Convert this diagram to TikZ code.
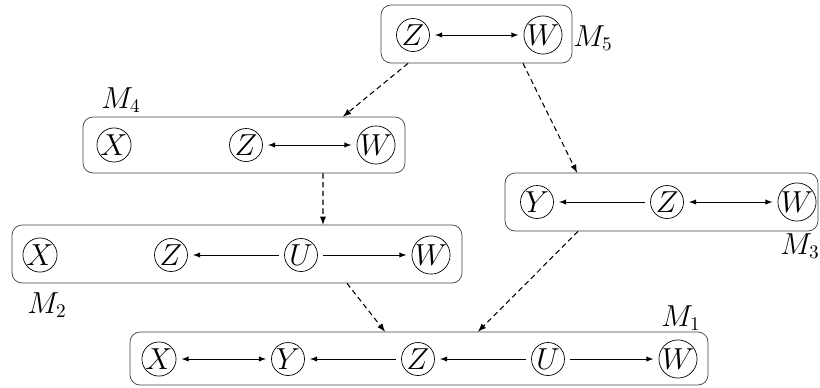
\documentclass[tikz,border=0pt]{standalone}
\usetikzlibrary{arrows}
\begin{document}
\begin{tikzpicture}[
    x=0.02cm, y=-0.02cm,
    >=latex,
    font=\fontsize{16}{19}\selectfont,
    var/.style={draw, circle, thin, minimum size=0.66cm, inner sep=0pt},
    model/.style={draw=black!75, rounded corners=0.2cm, minimum height=1.16cm},
    causal/.style={->, thin, shorten >=3pt, shorten <=3pt},
    assoc/.style={<->, thin, shorten >=3pt, shorten <=3pt},
    refine/.style={->, semithick, dash pattern=on 3pt off 2pt}
    ]
    \useasboundingbox (0,0) rectangle (820,387);

    % Model M5
    \node[model, minimum width=3.82cm] (m5) at (476.5,34) {};
    \node[var] (z5) at (413,35) {$Z$};
    \node[var] (w5) at (543,35) {$W$};
    \node (lab5) at (593,38) {$M_5$};
    \draw [assoc] (z5) -- (w5);

    % Model M4
    \node[model, minimum width=6.44cm, minimum height=1.12cm] (m4) at (244,145) {};
    \node[var] (x4) at (114,145) {$X$};
    \node[var] (z4) at (246,145) {$Z$};
    \node[var] (w4) at (376,145) {$W$};
    \node (lab4) at (121,100) {$M_4$};
    \draw [assoc] (z4) -- (w4);

    % Model M3
    \node[model, minimum width=6.26cm] (m3) at (661.5,202) {};
    \node[var] (y3) at (537,202) {$Y$};
    \node[var] (z3) at (667,202) {$Z$};
    \node[var] (w3) at (797,202) {$W$};
    \node (lab3) at (800,246) {$M_3$};
    \draw [causal] (z3) -- (y3);
    \draw [assoc] (z3) -- (w3);

    % Model M2
    \node[model, minimum width=9.0cm] (m2) at (237,254) {};
    \node[var] (x2) at (40,255) {$X$};
    \node[var] (z2) at (171,255) {$Z$};
    \node[var] (u2) at (301,255) {$U$};
    \node[var] (w2) at (431,255) {$W$};
    \node (lab2) at (47,305) {$M_2$};
    \draw [causal] (u2) -- (z2);
    \draw [causal] (u2) -- (w2);

    % Model M1
    \node[model, minimum width=11.56cm, minimum height=1.06cm] (m1) at (419,358.5) {};
    \node[var] (x1) at (159,359) {$X$};
    \node[var] (y1) at (288,359) {$Y$};
    \node[var] (z1) at (418,359) {$Z$};
    \node[var] (u1) at (548,359) {$U$};
    \node[var] (w1) at (678,359) {$W$};
    \node (lab1) at (681,318) {$M_1$};
    \draw [assoc] (x1) -- (y1);
    \draw [causal] (z1) -- (y1);
    \draw [causal] (u1) -- (z1);
    \draw [causal] (u1) -- (w1);

    % Dashed arrows between models
    \draw [refine] ([xshift=-1.37cm]m5.south) -- ([xshift=1.98cm]m4.north);
    \draw [refine] ([xshift=0.93cm]m5.south) -- ([xshift=-1.69cm]m3.north);
    \draw [refine] ([xshift=1.58cm]m4.south) -- ([xshift=1.72cm]m2.north);
    \draw [refine] ([xshift=2.2cm]m2.south) -- ([xshift=-0.68cm]m1.north);
    \draw [refine] ([xshift=-1.67cm]m3.south) -- ([xshift=1.18cm]m1.north);

\end{tikzpicture}
\end{document}
